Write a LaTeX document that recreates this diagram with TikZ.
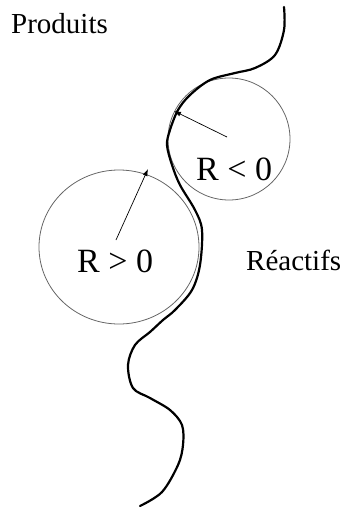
\documentclass[tikz,border=0pt]{standalone}
\usepackage{fontspec}
\setmainfont{Liberation Serif}
\usetikzlibrary{arrows.meta}
\begin{document}
\begin{tikzpicture}[x=1pt,y=-1pt,
  front/.style={line width=2.2pt,line cap=round,line join=round},
  ring/.style={draw=black!60,line width=0.8pt},
  radius arrow/.style={line width=0.7pt,-{Latex[length=7pt,width=5pt]}},
  lbl/.style={inner sep=0pt,anchor=base west}]
\useasboundingbox (0,0) rectangle (347,509);
\draw[ring] (229,139) circle [radius=61];
\draw[ring] (119,247) ellipse [x radius=80, y radius=77];
\draw[front] plot[smooth,tension=0.55] coordinates {
 (284,7) (284,30) (275,55) (255,68) (235,73) (210,80) (190,95) (178,110)
 (170,130) (167,145) (172,165) (180,185) (195,210) (202,230) (200,265)
 (192,290) (175,310) (163,320) (150,332) (135,345) (128,365) (133,388)
 (150,398) (170,410) (182,425) (183,445) (178,465) (162,492) (140,506)};
\coordinate (cs) at (227,137);
\coordinate (ts) at (174,111);
\coordinate (cb) at (116,240);
\coordinate (tb) at (148,169);
\draw[radius arrow] (cs) -- (ts);
\draw[radius arrow] (cb) -- (tb);
\node[lbl,font=\fontsize{29}{30}\selectfont] (prod) at (11,33) {Produits};
\node[lbl,font=\fontsize{29}{30}\selectfont] (reac) at (246,270) {Réactifs};
\node[lbl,font=\fontsize{34}{36}\selectfont] (rneg) at (196,180) {R < 0};
\node[lbl,font=\fontsize{34}{36}\selectfont] (rpos) at (77,272) {R > 0};
\end{tikzpicture}
\end{document}
